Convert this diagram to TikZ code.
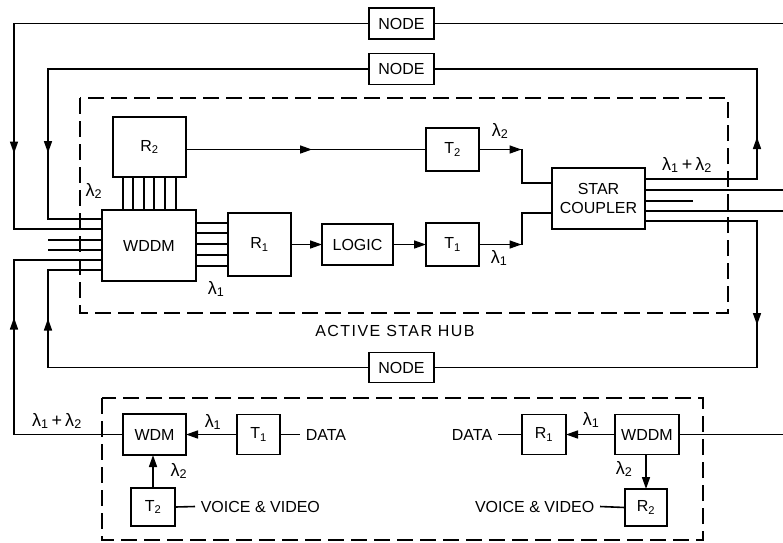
\documentclass[tikz,border=0pt]{standalone}
\usepackage{fontspec}
\setmainfont{Liberation Sans}
\usetikzlibrary{arrows.meta,decorations.markings}
\tikzset{
  tri/.tip={Triangle[length=12pt,width=8pt]},
  box/.style={draw, inner sep=0pt, outer sep=0pt, align=center, font=\fontsize{16}{19}\selectfont},
  sz/.style 2 args={minimum width=#1pt, minimum height=#2pt},
  lbl/.style={inner sep=0pt, font=\fontsize{18}{21}\selectfont},
  txt/.style={inner sep=0pt, inner xsep=5pt, font=\fontsize{16}{19}\selectfont},
  hub/.style={draw, dash pattern=on 16pt off 7pt},
  arrowat/.style={postaction={decorate}, decoration={markings, mark=at position #1 with {\arrow{tri}}}},
}
\begin{document}
\begin{tikzpicture}[x=1pt,y=-1pt,line width=1.6pt]
\useasboundingbox (0,0) rectangle (783,542);
% dashed enclosures
\draw[hub] (80,98) rectangle (728,313);
\draw[hub] (102,398) rectangle (703,540);
\node[inner sep=0pt,font=\fontsize{16}{19}\selectfont\addfontfeature{LetterSpace=9}] (hublbl) at (395,331) {ACTIVE STAR HUB};
% nodes
\node[box,sz={65}{31}] (nodeA) at (401.5,23.5) {NODE};
\node[box,sz={65}{31}] (nodeB) at (401.5,69) {NODE};
\node[box,sz={65}{30}] (nodeC) at (401.5,367.5) {NODE};
\node[box,sz={73}{60}] (r2) at (149.5,147) {R\textsubscript{2}};
\node[box,sz={94}{71}] (wddm) at (149,245.5) {WDDM};
\node[box,sz={63}{63}] (r1) at (259.5,244.5) {R\textsubscript{1}};
\node[box,sz={71}{41}] (logic) at (357.5,244.5) {LOGIC};
\node[box,sz={53}{43}] (t2) at (452.5,149.5) {T\textsubscript{2}};
\node[box,sz={53}{43}] (t1) at (452.5,244.5) {T\textsubscript{1}};
\node[box,sz={93}{61}] (star) at (598.5,198.5) {STAR\\COUPLER};
\node[box,sz={63}{41}] (wdm) at (154.5,434.5) {WDM};
\node[box,sz={43}{40}] (t1l) at (258.5,434.5) {T\textsubscript{1}};
\node[box,sz={44}{38}] (t2l) at (153,507) {T\textsubscript{2}};
\node[box,sz={64}{40}] (wddmr) at (647,434.5) {WDDM};
\node[box,sz={44}{40}] (r1r) at (544,434.5) {R\textsubscript{1}};
\node[box,sz={42}{37}] (r2r) at (646,507.5) {R\textsubscript{2}};
\node[txt,anchor=west] (dataL) at (300,434.5) {DATA};
\node[txt,anchor=west] (vvL) at (195,506.5) {VOICE \& VIDEO};
\node[txt,anchor=east] (dataR) at (498,434.5) {DATA};
\node[txt,anchor=east] (vvR) at (600,506.5) {VOICE \& VIDEO};
% free ends
\coordinate (eA) at (783,23.5);
\coordinate (s1) at (48,240);
\coordinate (s2) at (48,250);
\coordinate (eS1) at (783,190);
\coordinate (sS2) at (693,201);
\coordinate (eS3) at (783,211);
\coordinate (eR) at (783,434.5);
% loops
\draw[arrowat=485pt] (nodeA.west) -| (14,229) -- ([yshift=-19pt]wddm.north west);
\draw (nodeA.east) -- (eA);
\draw[arrowat=405pt] (nodeB.west) -| (48,219) -- ([yshift=-9pt]wddm.north west);
\draw[arrowat=154pt] ([yshift=-11pt]star.north east) -- (757,179) |- (nodeB.east);
\draw[arrowat=216pt] ([yshift=-53pt]star.north east) -- (757,221) |- (nodeC.east);
\draw[arrowat=370pt] (nodeC.west) -| (48,270) -- ([yshift=-60pt]wddm.north west);
\draw[arrowat=226pt] (wdm.west) -| (14,260) -- ([yshift=-50pt]wddm.north west);
\draw (s1) -- ([yshift=-30pt]wddm.north west);
\draw (s2) -- ([yshift=-40pt]wddm.north west);
% bundles
\foreach \dx in {21,31,42,52,63,74} \draw ([xshift=\dx pt]wddm.north west) -- ++(0,-33);
\foreach \dy in {13,23,34,45,56} \draw ([yshift=-\dy pt]wddm.north east) -- ++(32,0);
% hub internals
\draw[arrowat=126pt] (r2.east |- t2.west) -- (t2.west);
\draw[arrowat=42.5pt] (t2.east) -- (522,149.5) |- ([yshift=-15pt]star.north west);
\draw[arrowat=42.5pt] (t1.east) -- (522,244.5) |- ([yshift=-45pt]star.north west);
\draw[-{tri}] (r1.east) -- (logic.west);
\draw[-{tri}] (logic.east) -- (t1.west);
\draw ([yshift=-22pt]star.north east) -- (eS1);
\draw ([yshift=-33pt]star.north east) -- (sS2);
\draw ([yshift=-43pt]star.north east) -- (eS3);
% terminal
\draw[-{tri}] (t1l.west) -- (wdm.east);
\draw[-{tri}] (t2l.north) -- (t2l.north |- wdm.south);
\draw (t1l.east) -- (dataL.west);
\draw (t2l.east) -- (vvL.west);
\draw[-{tri}] (wddmr.west) -- (r1r.east);
\draw[-{tri}] (wddmr.south -| r2r.north) -- (r2r.north);
\draw (wddmr.east) -- (eR);
\draw (r1r.west) -- (dataR.east);
\draw (vvR.east) -- (r2r.west);
% wavelength labels
\node[lbl] (l1) at (94,191) {λ\textsubscript{2}};
\node[lbl] (l2) at (216,289) {λ\textsubscript{1}};
\node[lbl] (l3) at (500,131) {λ\textsubscript{2}};
\node[lbl] (l4) at (499,258) {λ\textsubscript{1}};
\node[lbl] (l5) at (687,165) {λ\textsubscript{1}\,+\,λ\textsubscript{2}};
\node[lbl] (l6) at (57,421) {λ\textsubscript{1}\,+\,λ\textsubscript{2}};
\node[lbl] (l7) at (213,422) {λ\textsubscript{1}};
\node[lbl] (l8) at (179,471) {λ\textsubscript{2}};
\node[lbl] (l9) at (591,420) {λ\textsubscript{1}};
\node[lbl] (l10) at (624,469) {λ\textsubscript{2}};
\end{tikzpicture}
\end{document}
